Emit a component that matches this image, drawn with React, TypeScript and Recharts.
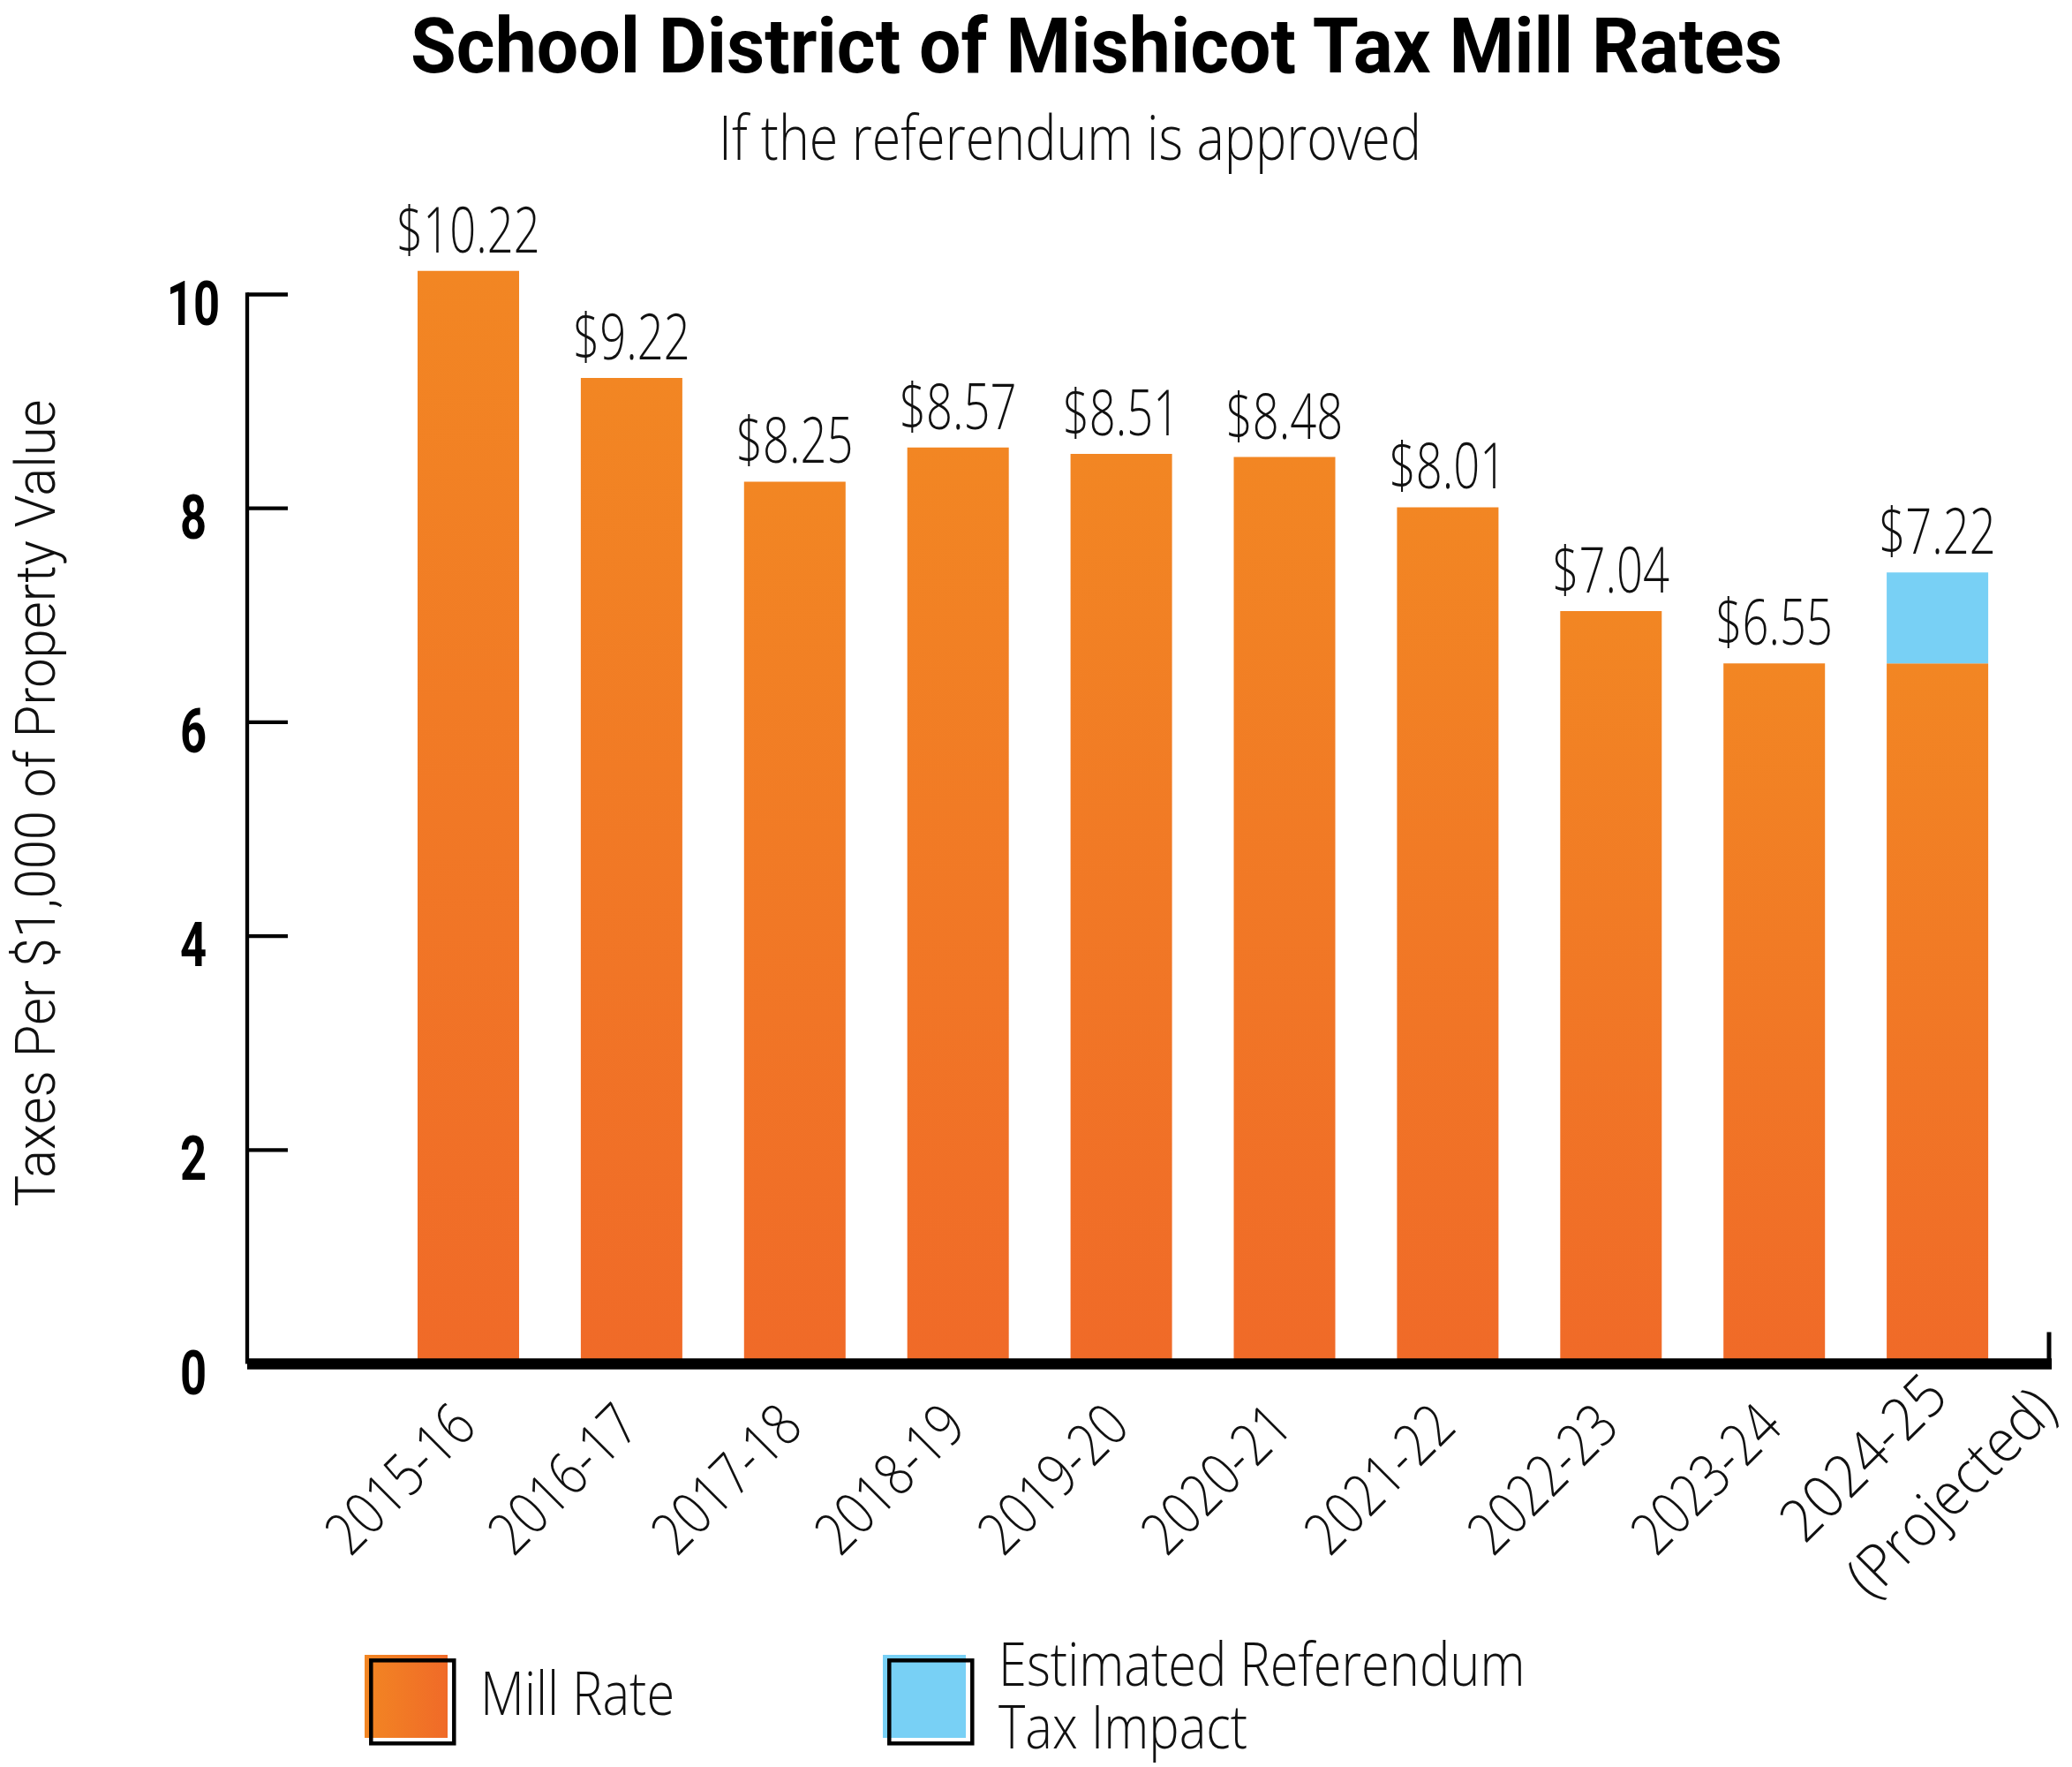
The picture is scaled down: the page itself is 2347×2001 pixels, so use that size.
import React from 'react';
import { BarChart, Bar, XAxis, YAxis, LabelList, Legend, usePlotArea } from 'recharts';

const TITLE = 'School District of Mishicot Tax Mill Rates';
const SUBTITLE = 'If the referendum is approved';
const Y_LABEL = 'Taxes Per $1,000 of Property Value';

const CATEGORIES = [
  '2015-16', '2016-17', '2017-18', '2018-19', '2019-20',
  '2020-21', '2021-22', '2022-23', '2023-24', '2024-25\n(Projected)',
];
const MILL_RATE = [10.22, 9.22, 8.25, 8.57, 8.51, 8.48, 8.01, 7.04, 6.55, 6.55];
const REFERENDUM_IMPACT = [0, 0, 0, 0, 0, 0, 0, 0, 0, 0.85];
const PRINTED_TOTALS = [10.22, 9.22, 8.25, 8.57, 8.51, 8.48, 8.01, 7.04, 6.55, 7.22];
const Y_TICKS = [0, 2, 4, 6, 8, 10];
const Y_MAX = 11;
const SERIES_MILL = 'Mill Rate';
const SERIES_IMPACT = 'Estimated Referendum Tax Impact';
const SERIES_ORDER = ['mill', 'impact'];

const ORANGE_TOP = '#F28623';
const ORANGE_BOTTOM = '#F06A28';
const BLUE = '#78D0F5';

const data = CATEGORIES.map((c, i) => ({
  category: c,
  mill: MILL_RATE[i],
  impact: REFERENDUM_IMPACT[i],
  total: PRINTED_TOTALS[i],
}));

const LIGHT = "'Open Sans', 'Noto Sans', sans-serif";
const BOLD = "Roboto, 'Open Sans', sans-serif";

const valueText = (x: number, y: number, width: number, value: any) => {
  const cx = x + width / 2;
  return (
    <g transform={`translate(${cx},${y - 21}) scale(0.74,1)`}>
      <text textAnchor="middle" fontFamily={LIGHT} fontWeight={300} fontSize={71} fill="#111">
        {`$${Number(value).toFixed(2)}`}
      </text>
    </g>
  );
};

const MillLabel = (props: any) => {
  const { x, y, width, value, index } = props;
  if ((REFERENDUM_IMPACT[index] ?? 0) > 0) return null;
  return valueText(Number(x), Number(y), Number(width), value);
};

const ImpactLabel = (props: any) => {
  const { x, y, width, height, value } = props;
  if (!(Number(height) > 0)) return null;
  return valueText(Number(x), Number(y), Number(width), value);
};

const XTick = (props: any) => {
  const { x, y, payload } = props;
  const lines = String(payload.value).split('\n');
  const ax = x + 12;
  const ay = y + 74;
  const common = { textAnchor: 'end' as const, fontFamily: LIGHT, fontWeight: 300, fontSize: 67, fill: '#111' };
  if (lines.length === 1) {
    return (
      <g transform={`translate(${ax},${ay}) rotate(-45) scale(0.82,1)`}>
        <text x={0} y={0} {...common}>{lines[0]}</text>
      </g>
    );
  }
  return (
    <g transform={`translate(${ax},${ay}) rotate(-45) scale(0.93,1)`}>
      <text {...common}>
        <tspan x={28} y={-22}>{lines[0]}</tspan>
        <tspan x={110} y={76}>{lines[1]}</tspan>
      </text>
    </g>
  );
};

const YTick = (props: any) => {
  const { x, y, payload } = props;
  return (
    <g>
      <line x1={x} x2={x + 46} y1={y} y2={y} stroke="#000" strokeWidth={4.3} />
      <g transform={`translate(${x - 61},${y + 34}) scale(0.74,1)`}>
        <text textAnchor="middle" fontFamily={BOLD} fontWeight={700} fontSize={71} fill="#000">
          {payload.value}
        </text>
      </g>
    </g>
  );
};

const YTitle = (props: any) => {
  const vb = props.viewBox || { x: 0, y: 0, width: 0, height: 0 };
  const cx = vb.x + 62;
  const cy = vb.y + vb.height / 2 + 31;
  return (
    <text
      x={cx}
      y={cy}
      transform={`rotate(-90,${cx},${cy})`}
      textAnchor="middle"
      fontFamily={BOLD}
      fontWeight={300}
      fontSize={63}
      fill="#111"
      textLength={914}
      lengthAdjust="spacingAndGlyphs"
    >
      {Y_LABEL}
    </text>
  );
};

const AxisFrame = () => {
  const area: any = usePlotArea();
  if (!area) return null;
  const yOf = (v: number) => area.y + area.height * (1 - v / Y_MAX);
  const top = Math.max(...Y_TICKS);
  const right = area.x + area.width;
  return (
    <g>
      <line x1={area.x} x2={area.x} y1={yOf(top) - 2.15} y2={yOf(0)} stroke="#000" strokeWidth={4.3} />
      <line x1={right - 3} x2={right - 3} y1={yOf(0) - 36} y2={yOf(0)} stroke="#000" strokeWidth={5} />
    </g>
  );
};

const LEGEND_X = [413, 1000];

const LegendContent = (props: any) => {
  const payload = [...(props.payload || [])].sort(
    (a: any, b: any) => SERIES_ORDER.indexOf(a.dataKey) - SERIES_ORDER.indexOf(b.dataKey)
  );
  return (
    <svg width={2347} height={160} style={{ display: 'block', overflow: 'visible' }}>
      <defs>
        <linearGradient id="legendOrange" x1="0" y1="0" x2="1" y2="0">
          <stop offset="0%" stopColor={ORANGE_TOP} />
          <stop offset="100%" stopColor={ORANGE_BOTTOM} />
        </linearGradient>
      </defs>
      {payload.map((entry: any, i: number) => {
        const x0 = LEGEND_X[i] ?? 413 + i * 587;
        const isImpact = entry.dataKey === 'impact';
        const fill = isImpact ? BLUE : 'url(#legendOrange)';
        const name = String(entry.value);
        const words = name.split(' ');
        const lines: string[] = [];
        let cur = '';
        words.forEach((w) => {
          const next = cur ? `${cur} ${w}` : w;
          if (next.length > 20 && cur) {
            lines.push(cur);
            cur = w;
          } else cur = next;
        });
        if (cur) lines.push(cur);
        const baseY = lines.length === 1 ? 102 : 69;
        return (
          <g key={i}>
            <rect x={x0} y={34} width={94} height={94} fill={fill} />
            <rect x={x0 + 7.3} y={40.3} width={94} height={94} fill="none" stroke="#000" strokeWidth={4.5} />
            <g transform={`translate(${x0 + 131},${baseY}) scale(0.85,1)`}>
              <text x={0} y={0} fontFamily={LIGHT} fontWeight={300} fontSize={68} fill="#111">
                {lines.map((ln, j) => (
                  <tspan key={j} x={0} y={j * 71}>
                    {ln}
                  </tspan>
                ))}
              </text>
            </g>
          </g>
        );
      })}
    </svg>
  );
};

export default function App() {
  return (
    <div style={{ position: 'relative', width: 2347, height: 2001, background: '#fff', overflow: 'hidden' }}>
      <style>{'html,body{margin:0;padding:0;overflow:hidden;background:#fff}'}</style>
      <svg
        width={2347}
        height={230}
        style={{ position: 'absolute', left: 0, top: 0, pointerEvents: 'none' }}
      >
        <text
          x={1242}
          y={82}
          textAnchor="middle"
          fontFamily={BOLD}
          fontWeight={700}
          fontSize={88}
          fill="#000"
          textLength={1554}
          lengthAdjust="spacingAndGlyphs"
        >
          {TITLE}
        </text>
        <text
          x={1212}
          y={181}
          textAnchor="middle"
          fontFamily={LIGHT}
          fontWeight={300}
          fontSize={70}
          fill="#111"
          textLength={796}
          lengthAdjust="spacingAndGlyphs"
        >
          {SUBTITLE}
        </text>
      </svg>
      <div style={{ position: 'absolute', left: 0, top: 0 }}>
        <BarChart
          width={2347}
          height={2001}
          data={data}
          margin={{ top: 212.4, right: 23, bottom: 196.5, left: 0 }}
          barCategoryGap={0}
        >
          <defs>
            <linearGradient id="barOrange" x1="0" y1="0" x2="0" y2="1">
              <stop offset="0%" stopColor={ORANGE_TOP} />
              <stop offset="100%" stopColor={ORANGE_BOTTOM} />
            </linearGradient>
          </defs>
          <YAxis
            type="number"
            domain={[0, Y_MAX]}
            ticks={Y_TICKS}
            width={280}
            axisLine={false}
            tickLine={false}
            tickSize={0}
            tickMargin={0}
            tick={<YTick />}
            label={{ content: <YTitle /> } as any}
          />
          <Bar
            dataKey="mill"
            name={SERIES_MILL}
            stackId="a"
            fill="url(#barOrange)"
            barSize={115}
            isAnimationActive={false}
          >
            <LabelList dataKey="total" content={<MillLabel />} />
          </Bar>
          <Bar
            dataKey="impact"
            name={SERIES_IMPACT}
            stackId="a"
            fill={BLUE}
            barSize={115}
            isAnimationActive={false}
          >
            <LabelList dataKey="total" content={<ImpactLabel />} />
          </Bar>
          <XAxis
            dataKey="category"
            type="category"
            interval={0}
            height={260}
            padding={{ left: 158, right: 37 }}
            axisLine={{ stroke: '#000', strokeWidth: 12.4 }}
            tickLine={false}
            tickSize={0}
            tickMargin={0}
            tick={<XTick />}
          />
          <AxisFrame />
          <Legend
            verticalAlign="bottom"
            itemSorter={null as any}
            content={<LegendContent />}
            wrapperStyle={{ left: 0, top: 1840, bottom: 'auto', width: 2347, height: 0, overflow: 'visible' }}
          />
        </BarChart>
      </div>
    </div>
  );
}
